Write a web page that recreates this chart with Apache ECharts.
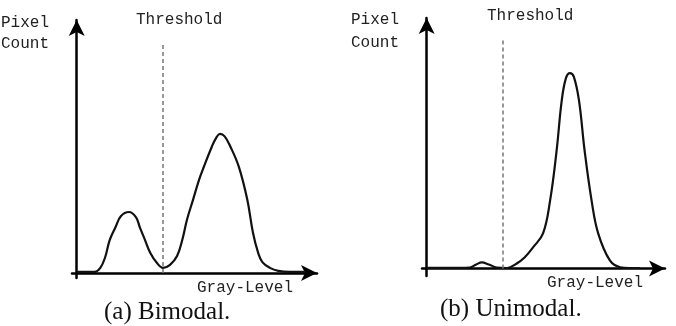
<!DOCTYPE html>
<html>
<head>
<meta charset="utf-8">
<script src="https://cdn.jsdelivr.net/npm/echarts@6/dist/echarts.min.js"></script>
<style>
  html, body { margin: 0; padding: 0; background: #fff; }
  #chart { width: 676px; height: 326px; }
</style>
</head>
<body>
<div id="chart"></div>
<script>
// gray level -> pixel count
const bimodalGray = [0, 19, 25, 30, 35, 41, 47, 55.5, 63, 67, 72.5, 78, 85, 91.6, 99, 106.5, 112, 117, 123.5, 130, 135, 143.5, 148, 152, 157, 163, 172, 181, 187, 192.5, 197, 205, 214, 226, 242];
const bimodalCount = [0.4, 0.4, 2, 6, 13, 18, 22.5, 24.1, 22, 18, 13, 8, 4, 2, 3.2, 6.7, 13, 21, 29, 37, 42, 50, 53.4, 55, 54, 50, 42, 29, 16, 8, 4.3, 2, 0.8, 0.4, 0.4];

const unimodalGray = [0, 36, 46, 53, 59, 66.5, 75, 86, 96, 105, 114, 124.5, 132, 139, 144.5, 149, 153.3, 157.5, 163, 169, 176.5, 183.5, 196, 207, 217, 228];
const unimodalCount = [0.3, 0.3, 0.4, 1.6, 2.4, 1.6, 0.4, 0.2, 1.9, 4.5, 8.5, 14, 27, 47, 67, 76, 78, 76.5, 67, 47, 27, 14, 3.2, 0.5, 0.2, 0.2];

const thresholds = [91.6, 81.6];     // gray level of the dashed line
const thresholdTops = [91, 91];      // top end of the dashed line (count)
const captions = ['(a) Bimodal.', '(b) Unimodal.'];

const chart = echarts.init(document.getElementById('chart'));

const mono = 'Liberation Mono';
const serif = 'Liberation Serif';

const axisX = (gridIndex) => ({
  type: 'value',
  gridIndex,
  min: -5,
  max: 255,
  axisLine: {
    onZero: true,
    symbol: ['none', 'arrow'],
    symbolSize: [12, 16],
    lineStyle: { color: '#000', width: 2.5 },
  },
  axisTick: { show: false },
  axisLabel: { show: false },
  splitLine: { show: false },
});

const axisY = (gridIndex, min) => ({
  type: 'value',
  gridIndex,
  min,
  max: 100,
  axisLine: {
    onZero: true,
    symbol: ['none', 'arrow'],
    symbolSize: [12, 16],
    lineStyle: { color: '#000', width: 2.5 },
  },
  axisTick: { show: false },
  axisLabel: { show: false },
  splitLine: { show: false },
});

const curve = (idx, gray, count) => ({
  type: 'line',
  xAxisIndex: idx,
  yAxisIndex: idx,
  smooth: 0.4,
  showSymbol: false,
  silent: true,
  data: gray.map((g, i) => [g, count[i]]),
  lineStyle: { color: '#111', width: 2.2 },
  markLine: {
    silent: true,
    symbol: 'none',
    label: { show: false },
    lineStyle: { color: '#777', width: 1.5, type: [4, 3] },
    data: [[{ coord: [thresholds[idx], 0] }, { coord: [thresholds[idx], thresholdTops[idx]] }]],
  },
});

const txt = (left, top, text, font, size, extra) => ({
  type: 'text',
  left,
  top,
  style: Object.assign({
    text,
    fill: '#222',
    font: `${size}px "${font}"`,
  }, extra || {}),
});

chart.setOption({
  animation: false,
  grid: [
    { left: 72, right: 359, top: 20, bottom: 48 },
    { left: 422, right: 11, top: 18, bottom: 50 },
  ],
  xAxis: [axisX(0), axisX(1)],
  yAxis: [axisY(0, -2), axisY(1, -3)],
  series: [
    curve(0, bimodalGray, bimodalCount),
    curve(1, unimodalGray, unimodalCount),
  ],
  graphic: [
    txt(1, 12, 'Pixel\nCount', mono, 16, { lineHeight: 21 }),
    txt(136, 12, 'Threshold', mono, 16),
    txt(197, 280, 'Gray-Level', mono, 16),
    txt(104, 300, captions[0], serif, 25, { fill: '#111' }),
    txt(351, 8, 'Pixel\nCount', mono, 16, { lineHeight: 23 }),
    txt(487, 8, 'Threshold', mono, 16),
    txt(547, 275, 'Gray-Level', mono, 16),
    txt(440, 297, captions[1], serif, 25, { fill: '#111' }),
  ],
});
</script>
</body>
</html>
